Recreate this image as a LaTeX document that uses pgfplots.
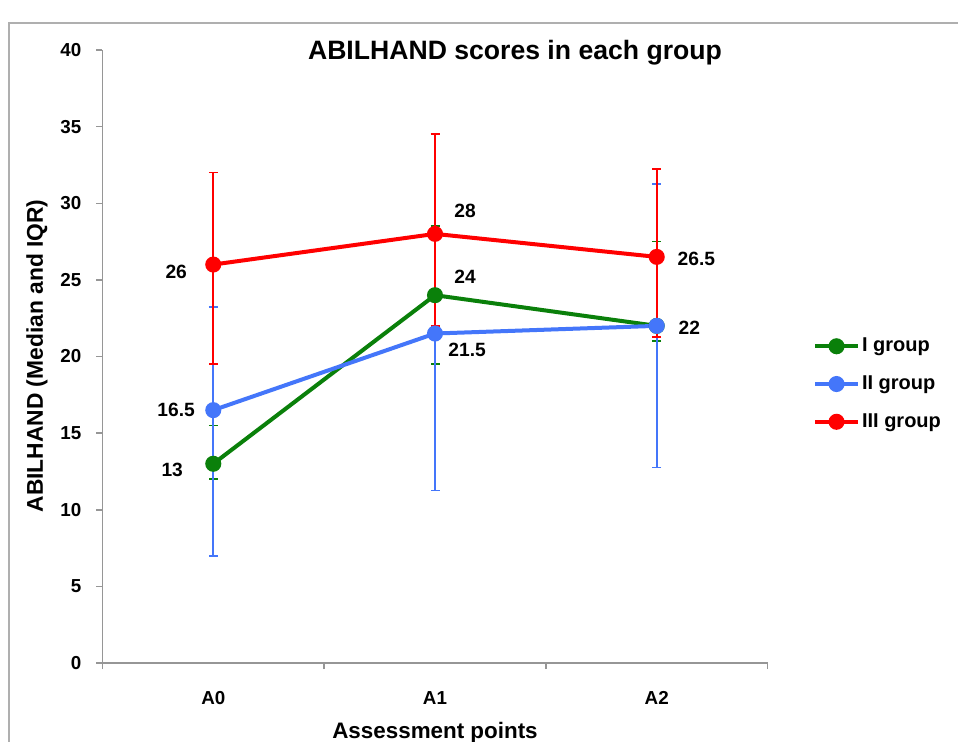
\documentclass[border=0pt]{standalone}
\usepackage{fontspec}
\setmainfont{Liberation Sans}
\usepackage{pgfplots}
\usepackage{pgfplotstable}
\pgfplotsset{compat=1.18}

\definecolor{grpI}{RGB}{10,128,10}
\definecolor{grpII}{RGB}{68,118,250}
\definecolor{grpIII}{RGB}{255,0,0}
\definecolor{axisgray}{RGB}{150,150,150}
\definecolor{framegray}{RGB}{175,175,175}

\newcommand{\tickfont}{\bfseries\fontsize{9.4}{11}\selectfont}
\newcommand{\valfont}{\bfseries\fontsize{9.6}{11}\selectfont}

% median, upper and lower IQR distances at A0, A1, A2
\pgfplotstableread{
x  med   up    lo
0  13    2.5   1
1  24    4.5   4.5
2  22    5.5   1
}\groupI
\pgfplotstableread{
x  med   up    lo
0  16.5  6.75  9.5
1  21.5  0     10.25
2  22    9.25  9.25
}\groupII
\pgfplotstableread{
x  med   up    lo
0  26    6     6.5
1  28    6.5   6
2  26.5  5.75  5.25
}\groupIII

\pgfplotsset{
  grpline/.style={#1, line width=2pt, mark=*, mark size=3pt,
    mark options={solid, fill=#1, draw=#1},
    error bars/.cd, y dir=both, y explicit,
    error bar style={draw=#1, line width=0.85pt},
    error mark=-,
    error mark options={draw=#1, line width=0.85pt, mark size=2.25pt, rotate=90}},
}

\begin{document}
\begin{tikzpicture}
% page frame and titles, laid out in pixel-like units
\begin{scope}[x=0.5pt,y=-0.5pt]
  \path[use as bounding box] (0,0) rectangle (958,742);
  \fill[white] (0,0) rectangle (958,742);
  \draw[framegray, line width=1pt] (9,760) -- (9,23) -- (970,23);
  \node[font=\bfseries\fontsize{13.3}{16}\selectfont] at (515,53) {ABILHAND scores in each group};
  \node[font=\bfseries\fontsize{11.2}{13}\selectfont] at (435,733) {Assessment points};
  \node[font=\bfseries\fontsize{11.4}{13}\selectfont, rotate=90] at (37,356) {ABILHAND (Median and IQR)};
\end{scope}

\begin{axis}[
  at={(51.2pt,-331.5pt)}, anchor=south west,
  scale only axis, width=332.6pt, height=306.5pt,
  xmin=-0.5, xmax=2.5, ymin=0, ymax=40,
  axis x line*=bottom, axis y line*=left,
  x axis line style={-}, y axis line style={-},
  axis line style={draw=axisgray, line width=0.75pt},
  clip=false,
  xtick={0,1,2}, xticklabels={A0,A1,A2},
  minor xtick={-0.5,0.5,1.5,2.5},
  major x tick style={draw=none},
  minor x tick style={draw=axisgray, line width=0.75pt},
  ytick={0,5,...,40},
  ytick style={draw=axisgray, line width=0.75pt},
  tick align=outside,
  major tick length=3pt, minor tick length=3pt,
  ticklabel style={font=\tickfont},
  /pgf/number format/assume math mode=true,
  yticklabel style={xshift=-4pt},
  xticklabel style={yshift=-7.5pt},
  legend style={
    at={(1.0677,0.4551)}, anchor=west,
    draw=none, fill=none, inner sep=0pt,
    font=\bfseries\fontsize{10}{12}\selectfont,
    nodes={inner sep=1pt},
    row sep=8.5pt, column sep=0pt,
  },
  legend cell align=left,
  legend image code/.code={
    \draw[mark repeat=2, mark phase=2, #1] plot coordinates {(0pt,0pt) (10.75pt,0pt) (21.5pt,0pt)};
  },
]

\addplot[grpline=grpI] table[x=x, y=med, y error plus=up, y error minus=lo] {\groupI};
\addlegendentry{I group}

\addplot[grpline=grpII] table[x=x, y=med, y error plus=up, y error minus=lo] {\groupII};
\addlegendentry{II group}

\addplot[grpline=grpIII] table[x=x, y=med, y error plus=up, y error minus=lo] {\groupIII};
\addlegendentry{III group}

% median labels
\node[anchor=east, inner sep=0pt, font=\valfont, xshift=-13pt,  yshift=-3.75pt] at (axis cs:0,26)   {26};
\node[anchor=east, inner sep=0pt, font=\valfont, xshift=-9pt,   yshift=0pt]     at (axis cs:0,16.5) {16.5};
\node[anchor=east, inner sep=0pt, font=\valfont, xshift=-15pt,  yshift=-3pt]    at (axis cs:0,13)   {13};
\node[anchor=west, inner sep=0pt, font=\valfont, xshift=9.5pt,  yshift=11.5pt]  at (axis cs:1,28)   {28};
\node[anchor=west, inner sep=0pt, font=\valfont, xshift=9.5pt,  yshift=9pt]     at (axis cs:1,24)   {24};
\node[anchor=west, inner sep=0pt, font=\valfont, xshift=6.5pt,  yshift=-8.25pt] at (axis cs:1,21.5) {21.5};
\node[anchor=west, inner sep=0pt, font=\valfont, xshift=10.3pt, yshift=-1pt]    at (axis cs:2,26.5) {26.5};
\node[anchor=west, inner sep=0pt, font=\valfont, xshift=10.8pt, yshift=-1.2pt]  at (axis cs:2,22)   {22};
\end{axis}
\end{tikzpicture}
\end{document}
